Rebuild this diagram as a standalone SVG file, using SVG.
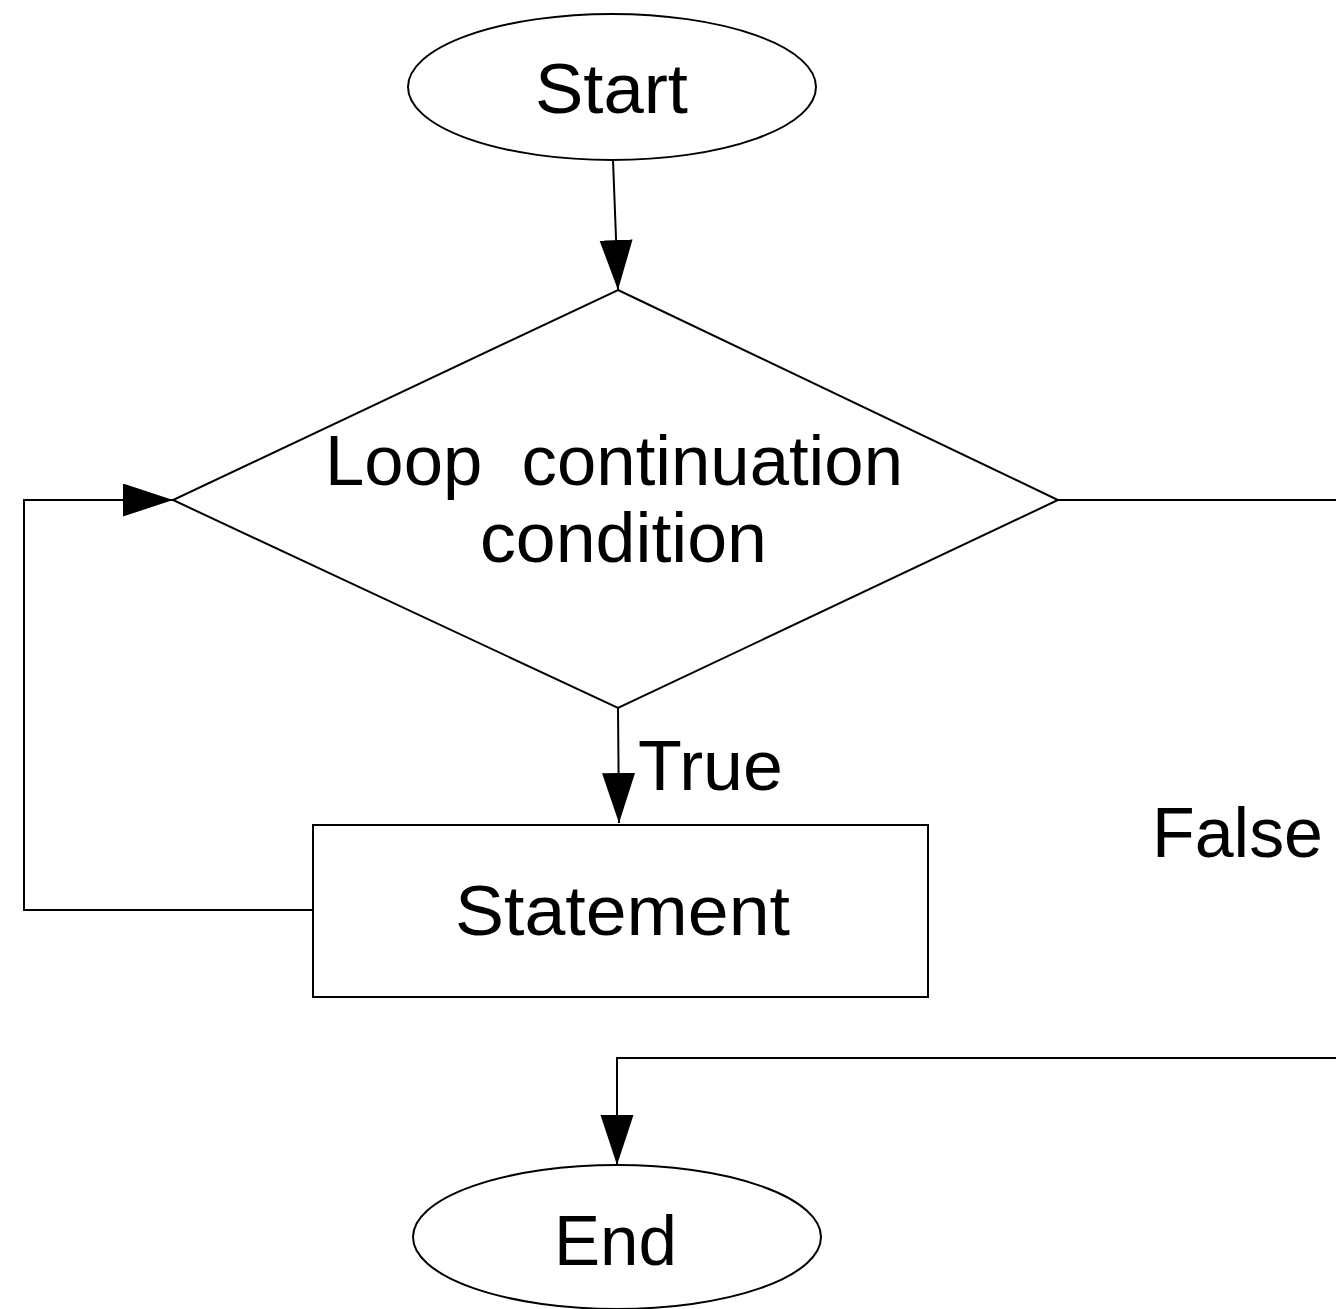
<svg xmlns="http://www.w3.org/2000/svg" width="1336" height="1309" viewBox="0 0 1336 1309">
<style>
.shape{fill:#fff;stroke:#000;stroke-width:2}
.conn{fill:none;stroke:#000;stroke-width:2}
text{font-family:"Liberation Sans",Arial,sans-serif;font-size:70px;fill:#000}
</style>
<defs>
<marker id="arr" markerUnits="userSpaceOnUse" markerWidth="52" markerHeight="34" refX="50" refY="16.5" orient="auto">
<path d="M0,0 L50,16.5 L0,33 z" fill="#000"/>
</marker>
</defs>
<rect width="1336" height="1309" fill="#fff"/>
<g id="connectors">
<path class="conn" d="M613,160 L618,290" marker-end="url(#arr)"/>
<path class="conn" d="M618,708 L619,823" marker-end="url(#arr)"/>
<path class="conn" d="M313,910 L24,910 L24,500 L173,500" marker-end="url(#arr)"/>
<path class="conn" d="M1058,500 L1340,500"/>
<path class="conn" d="M1340,1058 L617,1058 L617,1165" marker-end="url(#arr)"/>
</g>
<g id="start">
<ellipse class="shape" cx="612" cy="87" rx="204" ry="73"/>
<text x="535" y="113" textLength="153" lengthAdjust="spacingAndGlyphs">Start</text>
</g>
<g id="decision">
<polygon class="shape" points="618,290 1058,500 618,708 173,500"/>
<text x="325" y="485" textLength="578" lengthAdjust="spacingAndGlyphs" xml:space="preserve">Loop  continuation</text>
<text x="480" y="562" textLength="287" lengthAdjust="spacingAndGlyphs">condition</text>
</g>
<g id="true-label">
<text x="638" y="790" textLength="145" lengthAdjust="spacingAndGlyphs">True</text>
</g>
<g id="statement">
<rect class="shape" x="313" y="825" width="615" height="172"/>
<text x="455" y="935" textLength="335" lengthAdjust="spacingAndGlyphs">Statement</text>
</g>
<g id="false-label">
<text x="1152" y="857" textLength="171" lengthAdjust="spacingAndGlyphs">False</text>
</g>
<g id="end">
<ellipse class="shape" cx="617" cy="1237" rx="204" ry="72"/>
<text x="554" y="1265" textLength="123" lengthAdjust="spacingAndGlyphs">End</text>
</g>
</svg>
